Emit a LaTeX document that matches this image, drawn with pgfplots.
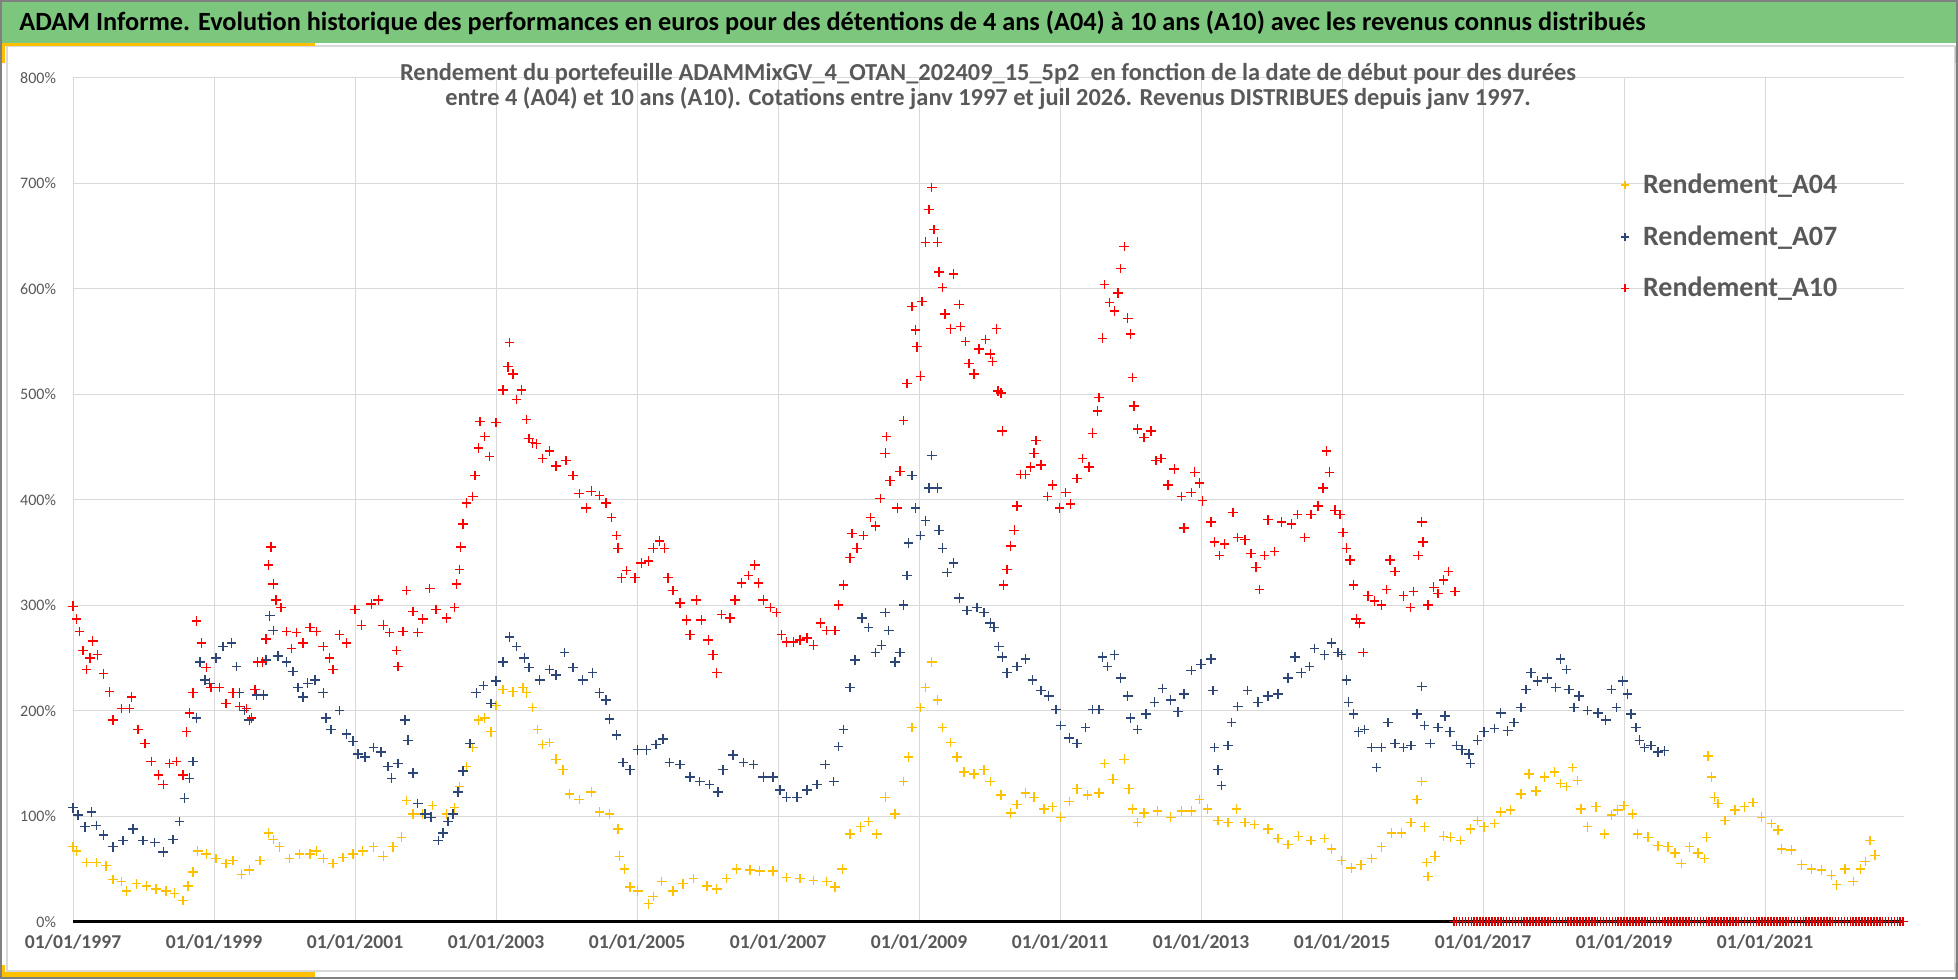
\documentclass[border=0pt]{standalone}
\usepackage{fontspec}
\setmainfont{Carlito}
\usepackage{pgfplots}
\pgfplotsset{compat=1.18}
\usepackage{pgfplotstable}

\definecolor{bannergreen}{RGB}{125,198,125}
\definecolor{goldc}{RGB}{255,192,0}
\definecolor{navyc}{RGB}{45,70,118}
\definecolor{redc}{RGB}{255,0,0}
\definecolor{txtgray}{RGB}{89,89,89}
\definecolor{gridgray}{RGB}{217,217,217}

\pgfplotstableread{
x y
1997.00 71
1997.05 67
1997.19 56
1997.33 56
1997.47 53
1997.57 40
1997.69 38
1997.76 29
1997.90 36
1998.04 34
1998.18 31
1998.32 29
1998.44 27
1998.56 20
1998.63 34
1998.70 47
1998.77 67
1998.89 64
1999.03 60
1999.17 55
1999.27 58
1999.39 45
1999.50 49
1999.65 58
1999.77 84
1999.84 78
1999.93 71
2000.07 60
2000.21 64
2000.36 64
2000.45 67
2000.55 60
2000.69 55
2000.83 61
2000.97 64
2001.11 67
2001.26 71
2001.40 62
2001.54 71
2001.66 80
2001.73 115
2001.82 102
2001.96 102
2002.10 110
2002.30 102
2002.41 108
2002.48 128
2002.58 147
2002.67 165
2002.75 191
2002.84 193
2002.93 180
2003.00 205
2003.10 220
2003.24 218
2003.38 222
2003.43 217
2003.52 203
2003.59 182
2003.66 168
2003.76 170
2003.85 154
2003.95 144
2004.04 121
2004.18 116
2004.35 123
2004.47 104
2004.61 102
2004.73 88
2004.75 62
2004.82 50
2004.90 33
2005.01 29
2005.16 17
2005.23 24
2005.35 38
2005.51 29
2005.65 36
2005.80 41
2005.99 34
2006.13 31
2006.27 41
2006.41 50
2006.60 49
2006.74 48
2006.93 48
2007.12 42
2007.31 41
2007.50 39
2007.69 38
2007.81 33
2007.91 50
2008.02 83
2008.17 90
2008.28 95
2008.40 83
2008.52 118
2008.66 102
2008.78 133
2008.85 156
2008.90 184
2009.02 203
2009.09 222
2009.18 246
2009.26 210
2009.33 184
2009.45 170
2009.54 156
2009.64 142
2009.78 140
2009.92 144
2010.01 133
2010.16 120
2010.30 103
2010.39 111
2010.51 122
2010.63 118
2010.77 107
2010.89 109
2011.01 99
2011.13 114
2011.24 126
2011.39 120
2011.55 122
2011.63 150
2011.75 135
2011.91 154
2011.98 126
2012.03 107
2012.10 94
2012.19 103
2012.38 105
2012.57 99
2012.72 105
2012.86 105
2012.98 116
2013.09 107
2013.24 96
2013.38 94
2013.50 107
2013.62 94
2013.76 92
2013.95 88
2014.09 79
2014.23 73
2014.38 81
2014.56 77
2014.75 79
2014.85 69
2014.99 58
2015.13 51
2015.27 54
2015.42 60
2015.56 71
2015.70 84
2015.84 84
2015.98 94
2016.06 116
2016.13 133
2016.17 90
2016.20 56
2016.22 43
2016.32 62
2016.44 81
2016.54 80
2016.68 77
2016.82 88
2016.92 96
2017.01 90
2017.16 93
2017.25 104
2017.39 106
2017.54 121
2017.65 140
2017.75 124
2017.87 137
2018.01 142
2018.10 131
2018.18 128
2018.27 146
2018.34 134
2018.39 107
2018.48 90
2018.60 109
2018.72 83
2018.82 101
2018.91 106
2019.00 110
2019.12 102
2019.19 83
2019.34 80
2019.48 72
2019.62 71
2019.72 65
2019.81 55
2019.93 71
2020.05 65
2020.14 60
2020.17 80
2020.19 157
2020.24 137
2020.28 118
2020.33 112
2020.43 96
2020.57 106
2020.71 109
2020.83 113
2020.95 99
2021.09 93
2021.18 87
2021.23 69
2021.37 68
2021.52 54
2021.66 50
2021.80 49
2021.94 44
2022.01 35
2022.13 50
2022.25 38
2022.35 50
2022.42 57
2022.49 77
2022.56 63
}\tA

\pgfplotstableread{
x y
1997.00 108
1997.07 101
1997.17 90
1997.26 104
1997.33 91
1997.43 82
1997.57 71
1997.71 77
1997.85 88
1997.99 77
1998.16 75
1998.28 66
1998.42 78
1998.51 95
1998.58 117
1998.65 136
1998.70 152
1998.75 193
1998.80 246
1998.87 229
1998.94 226
1999.03 250
1999.13 261
1999.25 264
1999.32 242
1999.36 217
1999.43 200
1999.50 191
1999.60 215
1999.70 215
1999.74 248
1999.79 290
1999.84 276
1999.91 252
2000.03 246
2000.12 237
2000.19 222
2000.26 213
2000.33 226
2000.43 229
2000.55 217
2000.59 193
2000.66 182
2000.78 200
2000.88 178
2000.97 171
2001.04 159
2001.14 156
2001.26 165
2001.37 161
2001.47 147
2001.52 136
2001.61 150
2001.71 191
2001.75 172
2001.82 141
2001.89 112
2001.99 102
2002.08 99
2002.18 77
2002.25 84
2002.32 95
2002.39 102
2002.46 123
2002.53 143
2002.63 169
2002.72 217
2002.82 224
2002.93 207
2003.00 228
2003.10 246
2003.19 270
2003.29 261
2003.40 250
2003.47 241
2003.62 229
2003.76 239
2003.85 234
2003.97 255
2004.09 241
2004.23 229
2004.37 236
2004.47 217
2004.56 210
2004.61 192
2004.71 177
2004.80 151
2004.90 144
2005.01 163
2005.13 163
2005.27 168
2005.37 173
2005.46 151
2005.61 149
2005.75 137
2005.89 133
2006.03 130
2006.15 123
2006.22 144
2006.36 158
2006.51 151
2006.65 149
2006.79 137
2006.93 137
2007.03 125
2007.12 118
2007.27 118
2007.41 125
2007.55 130
2007.67 149
2007.79 133
2007.86 166
2007.93 182
2008.02 222
2008.09 248
2008.19 288
2008.28 279
2008.38 255
2008.47 262
2008.52 293
2008.57 276
2008.66 246
2008.73 255
2008.78 300
2008.83 328
2008.85 359
2008.90 423
2008.95 392
2009.02 366
2009.09 380
2009.14 411
2009.18 442
2009.26 411
2009.28 371
2009.33 354
2009.40 331
2009.49 340
2009.57 307
2009.68 295
2009.82 298
2009.92 293
2010.01 283
2010.06 279
2010.13 261
2010.18 251
2010.25 236
2010.39 242
2010.51 249
2010.61 229
2010.73 219
2010.84 214
2010.94 201
2011.01 186
2011.13 174
2011.24 169
2011.36 184
2011.46 201
2011.55 201
2011.60 251
2011.67 242
2011.77 253
2011.86 231
2011.96 214
2012.00 193
2012.10 182
2012.22 197
2012.34 208
2012.45 221
2012.57 210
2012.67 199
2012.76 216
2012.86 238
2013.00 244
2013.14 249
2013.17 219
2013.19 165
2013.24 144
2013.29 129
2013.38 167
2013.43 189
2013.52 204
2013.66 219
2013.81 208
2013.95 214
2014.09 216
2014.23 231
2014.33 251
2014.42 236
2014.54 242
2014.61 259
2014.75 253
2014.85 264
2014.94 255
2014.99 253
2015.06 229
2015.09 208
2015.16 197
2015.23 180
2015.32 182
2015.42 165
2015.49 146
2015.56 165
2015.65 189
2015.75 169
2015.87 165
2015.98 167
2016.06 197
2016.13 223
2016.17 186
2016.25 169
2016.36 184
2016.46 195
2016.53 180
2016.62 167
2016.70 163
2016.80 159
2016.82 150
2016.92 172
2017.01 180
2017.16 183
2017.25 198
2017.35 181
2017.44 189
2017.54 203
2017.61 220
2017.68 236
2017.77 228
2017.91 231
2018.03 222
2018.10 249
2018.18 239
2018.22 220
2018.29 203
2018.36 214
2018.48 200
2018.63 198
2018.74 191
2018.82 220
2018.89 203
2018.98 228
2019.05 216
2019.10 197
2019.17 184
2019.22 172
2019.29 165
2019.38 167
2019.48 161
2019.57 162
}\tB

\pgfplotstableread{
x y
1997.00 299
1997.05 287
1997.09 275
1997.14 257
1997.19 239
1997.24 250
1997.28 266
1997.35 253
1997.43 235
1997.52 218
1997.57 191
1997.69 202
1997.80 202
1997.83 213
1997.92 182
1998.02 169
1998.11 152
1998.21 139
1998.28 130
1998.37 150
1998.47 152
1998.56 139
1998.61 180
1998.65 198
1998.70 217
1998.75 285
1998.82 264
1998.89 241
1998.96 222
1999.08 222
1999.17 207
1999.27 217
1999.36 204
1999.46 202
1999.53 193
1999.58 220
1999.62 246
1999.69 246
1999.74 268
1999.77 338
1999.81 355
1999.84 320
1999.88 305
1999.95 298
2000.03 275
2000.10 259
2000.17 274
2000.26 264
2000.36 279
2000.45 275
2000.55 261
2000.64 250
2000.69 239
2000.78 272
2000.88 264
2001.00 296
2001.09 281
2001.23 301
2001.33 305
2001.40 281
2001.49 274
2001.59 257
2001.61 242
2001.68 275
2001.73 314
2001.82 294
2001.89 274
2001.96 287
2002.06 316
2002.15 296
2002.30 288
2002.41 298
2002.44 320
2002.48 334
2002.50 355
2002.53 377
2002.58 397
2002.67 403
2002.70 423
2002.75 449
2002.77 474
2002.84 460
2002.91 441
2003.00 473
2003.10 504
2003.17 526
2003.19 549
2003.24 519
2003.29 495
2003.36 504
2003.43 476
2003.47 458
2003.52 454
2003.57 453
2003.66 439
2003.76 446
2003.85 432
2003.99 437
2004.09 423
2004.18 406
2004.28 392
2004.35 408
2004.47 404
2004.56 397
2004.64 383
2004.71 366
2004.73 354
2004.78 326
2004.85 333
2004.97 326
2005.06 340
2005.16 342
2005.23 354
2005.32 361
2005.39 354
2005.44 326
2005.51 314
2005.61 302
2005.70 286
2005.75 272
2005.84 305
2005.91 286
2006.01 267
2006.08 253
2006.13 236
2006.20 291
2006.32 288
2006.39 305
2006.48 321
2006.58 328
2006.67 338
2006.72 321
2006.79 305
2006.89 298
2006.98 293
2007.05 272
2007.12 265
2007.22 265
2007.31 267
2007.41 269
2007.50 262
2007.60 283
2007.69 276
2007.81 276
2007.86 300
2007.93 319
2008.02 345
2008.05 368
2008.12 354
2008.21 366
2008.31 383
2008.38 375
2008.45 401
2008.52 444
2008.54 460
2008.59 418
2008.69 392
2008.73 427
2008.78 475
2008.83 510
2008.90 583
2008.95 561
2008.97 545
2009.02 517
2009.04 588
2009.09 644
2009.14 675
2009.18 696
2009.21 656
2009.26 644
2009.28 616
2009.33 601
2009.37 576
2009.45 562
2009.49 614
2009.57 585
2009.59 564
2009.66 550
2009.71 529
2009.78 519
2009.85 543
2009.94 552
2010.01 538
2010.04 531
2010.10 562
2010.12 503
2010.16 501
2010.18 465
2010.20 319
2010.25 334
2010.30 356
2010.35 371
2010.39 394
2010.44 424
2010.51 424
2010.58 431
2010.63 444
2010.66 456
2010.73 433
2010.82 403
2010.89 414
2010.99 392
2011.08 407
2011.15 396
2011.24 420
2011.32 439
2011.41 431
2011.46 463
2011.53 484
2011.55 497
2011.60 553
2011.63 604
2011.70 587
2011.77 579
2011.82 596
2011.86 619
2011.91 640
2011.96 572
2012.00 557
2012.03 516
2012.05 489
2012.10 467
2012.19 459
2012.29 465
2012.36 437
2012.43 439
2012.53 414
2012.62 429
2012.72 403
2012.76 373
2012.86 407
2012.91 426
2012.98 416
2013.02 399
2013.14 379
2013.19 360
2013.26 347
2013.33 358
2013.45 388
2013.52 364
2013.62 362
2013.71 349
2013.78 336
2013.83 315
2013.90 347
2013.95 381
2014.04 351
2014.14 379
2014.28 377
2014.37 386
2014.47 364
2014.56 386
2014.66 394
2014.73 411
2014.78 446
2014.82 426
2014.90 390
2014.97 386
2015.01 369
2015.06 354
2015.11 343
2015.16 319
2015.20 287
2015.25 283
2015.30 255
2015.37 309
2015.46 304
2015.56 300
2015.63 315
2015.68 343
2015.75 332
2015.87 309
2015.97 298
2016.01 313
2016.08 347
2016.13 379
2016.15 360
2016.22 300
2016.30 317
2016.36 311
2016.44 324
2016.51 332
2016.60 313
}\tC

\pgfplotstableread{
x y
2016.583 0
2016.625 0
2016.667 0
2016.708 0
2016.750 0
2016.792 0
2016.833 0
2016.875 0
2016.917 0
2016.958 0
2017.000 0
2017.042 0
2017.083 0
2017.125 0
2017.167 0
2017.208 0
2017.250 0
2017.292 0
2017.333 0
2017.375 0
2017.417 0
2017.458 0
2017.500 0
2017.542 0
2017.583 0
2017.625 0
2017.667 0
2017.708 0
2017.750 0
2017.792 0
2017.833 0
2017.875 0
2017.917 0
2017.958 0
2018.000 0
2018.042 0
2018.083 0
2018.125 0
2018.167 0
2018.208 0
2018.250 0
2018.292 0
2018.333 0
2018.375 0
2018.417 0
2018.458 0
2018.500 0
2018.542 0
2018.583 0
2018.625 0
2018.667 0
2018.708 0
2018.750 0
2018.792 0
2018.833 0
2018.875 0
2018.917 0
2018.958 0
2019.000 0
2019.042 0
2019.083 0
2019.125 0
2019.167 0
2019.208 0
2019.250 0
2019.292 0
2019.333 0
2019.375 0
2019.417 0
2019.458 0
2019.500 0
2019.542 0
2019.583 0
2019.625 0
2019.667 0
2019.708 0
2019.750 0
2019.792 0
2019.833 0
2019.875 0
2019.917 0
2019.958 0
2020.000 0
2020.042 0
2020.083 0
2020.125 0
2020.167 0
2020.208 0
2020.250 0
2020.292 0
2020.333 0
2020.375 0
2020.417 0
2020.458 0
2020.500 0
2020.542 0
2020.583 0
2020.625 0
2020.667 0
2020.708 0
2020.750 0
2020.792 0
2020.833 0
2020.875 0
2020.917 0
2020.958 0
2021.000 0
2021.042 0
2021.083 0
2021.125 0
2021.167 0
2021.208 0
2021.250 0
2021.292 0
2021.333 0
2021.375 0
2021.417 0
2021.458 0
2021.500 0
2021.542 0
2021.583 0
2021.625 0
2021.667 0
2021.708 0
2021.750 0
2021.792 0
2021.833 0
2021.875 0
2021.917 0
2021.958 0
2022.000 0
2022.042 0
2022.083 0
2022.125 0
2022.167 0
2022.208 0
2022.250 0
2022.292 0
2022.333 0
2022.375 0
2022.417 0
2022.458 0
2022.500 0
2022.542 0
2022.583 0
2022.625 0
2022.667 0
2022.708 0
2022.750 0
2022.792 0
2022.833 0
2022.875 0
2022.917 0
2022.958 0
}\tZ

\begin{document}
\begin{tikzpicture}
\fill[white] (0,0) rectangle (979pt,489.5pt);
% banner
\fill[bannergreen] (0,468pt) rectangle (979pt,489.5pt);
\draw[gridgray, line width=0.6pt] (3.5pt,4pt) rectangle (977.5pt,466.5pt);
% yellow accents
\fill[goldc] (0,466.3pt) rectangle (157.5pt,468pt);
\fill[goldc] (0,458pt) rectangle (2.5pt,468pt);
\fill[goldc] (0,1pt) rectangle (157.5pt,3.5pt);
\fill[goldc] (0,1pt) rectangle (2.5pt,7pt);
\fill[goldc] (977.5pt,1pt) rectangle (979pt,8pt);
\fill[goldc] (977.5pt,458pt) rectangle (979pt,466pt);
\draw[gray, line width=0.8pt] (0.4pt,0.4pt) rectangle (978.6pt,489.1pt);
\node[anchor=west, inner sep=0pt, font=\fontsize{13.15}{15}\selectfont\bfseries] at (9.5pt,478pt)
 {ADAM Informe. Evolution historique des performances en euros pour des détentions de 4 ans (A04) à 10 ans (A10) avec les revenus connus distribués};

\begin{axis}[
  at={(36.5pt,28.65pt)}, anchor=south west,
  scale only axis, width=915.5pt, height=422pt,
  clip=false,
  xmin=1997, xmax=2022.97, ymin=0, ymax=800,
  xtick={1997,1999,2001,2003,2005,2007,2009,2011,2013,2015,2017,2019,2021},
  xticklabels={01/01/1997,01/01/1999,01/01/2001,01/01/2003,01/01/2005,01/01/2007,01/01/2009,01/01/2011,01/01/2013,01/01/2015,01/01/2017,01/01/2019,01/01/2021},
  ytick={100,200,300,400,500,600,700,800},
  yticklabels={100\%,200\%,300\%,400\%,500\%,600\%,700\%,800\%},
  extra y ticks={0},
  extra y tick labels={0\%},
  extra y tick style={grid=major, major grid style={black, line width=1.5pt}},
  grid=major,
  major grid style={gridgray, line width=0.5pt},
  axis line style={draw=none},
  major tick length=0pt,
  every tick label/.append style={text=txtgray},
  xticklabel style={font=\fontsize{9.8}{11}\selectfont\bfseries, anchor=center, yshift=-10pt},
  yticklabel style={font=\fontsize{8}{9}\selectfont, anchor=east, xshift=-5pt},
  legend style={at={(0.842,0.896)}, anchor=north west, draw=none, fill=none,
    font=\fontsize{14}{16}\selectfont\bfseries, text=txtgray, row sep=10.5pt,
    nodes={inner sep=2pt}},
  legend cell align=left,
  legend image code/.code={\draw[#1, mark size=2pt, line width=0.5pt] plot coordinates {(0pt,0pt)};},
  /tikz/every odd column/.append style={column sep=5pt},
]
\addplot[only marks, mark=+, color=goldc, mark size=2.4pt, mark options={line width=0.7pt}] table {\tA};
\addlegendentry{Rendement\_A04}
\addplot[only marks, mark=+, color=navyc, mark size=2.4pt, mark options={line width=0.7pt}] table {\tB};
\addlegendentry{Rendement\_A07}
\addplot[only marks, mark=+, color=redc, mark size=2.4pt, mark options={line width=0.7pt}] table {\tC};
\addlegendentry{Rendement\_A10}
\addplot[only marks, mark=+, color=redc!85!black, mark size=2.4pt, mark options={line width=0.8pt}, forget plot] table {\tZ};
\end{axis}

\node[align=center, text=txtgray, font=\fontsize{12.2}{12.5}\selectfont\bfseries] at (494pt,446.5pt)
 {Rendement du portefeuille ADAMMixGV\_4\_OTAN\_202409\_15\_5p2\ \ en fonction de la date de début pour des durées\\
 entre 4 (A04) et 10 ans (A10). Cotations entre janv 1997 et juil 2026. Revenus DISTRIBUES depuis janv 1997.};
\end{tikzpicture}
\end{document}
